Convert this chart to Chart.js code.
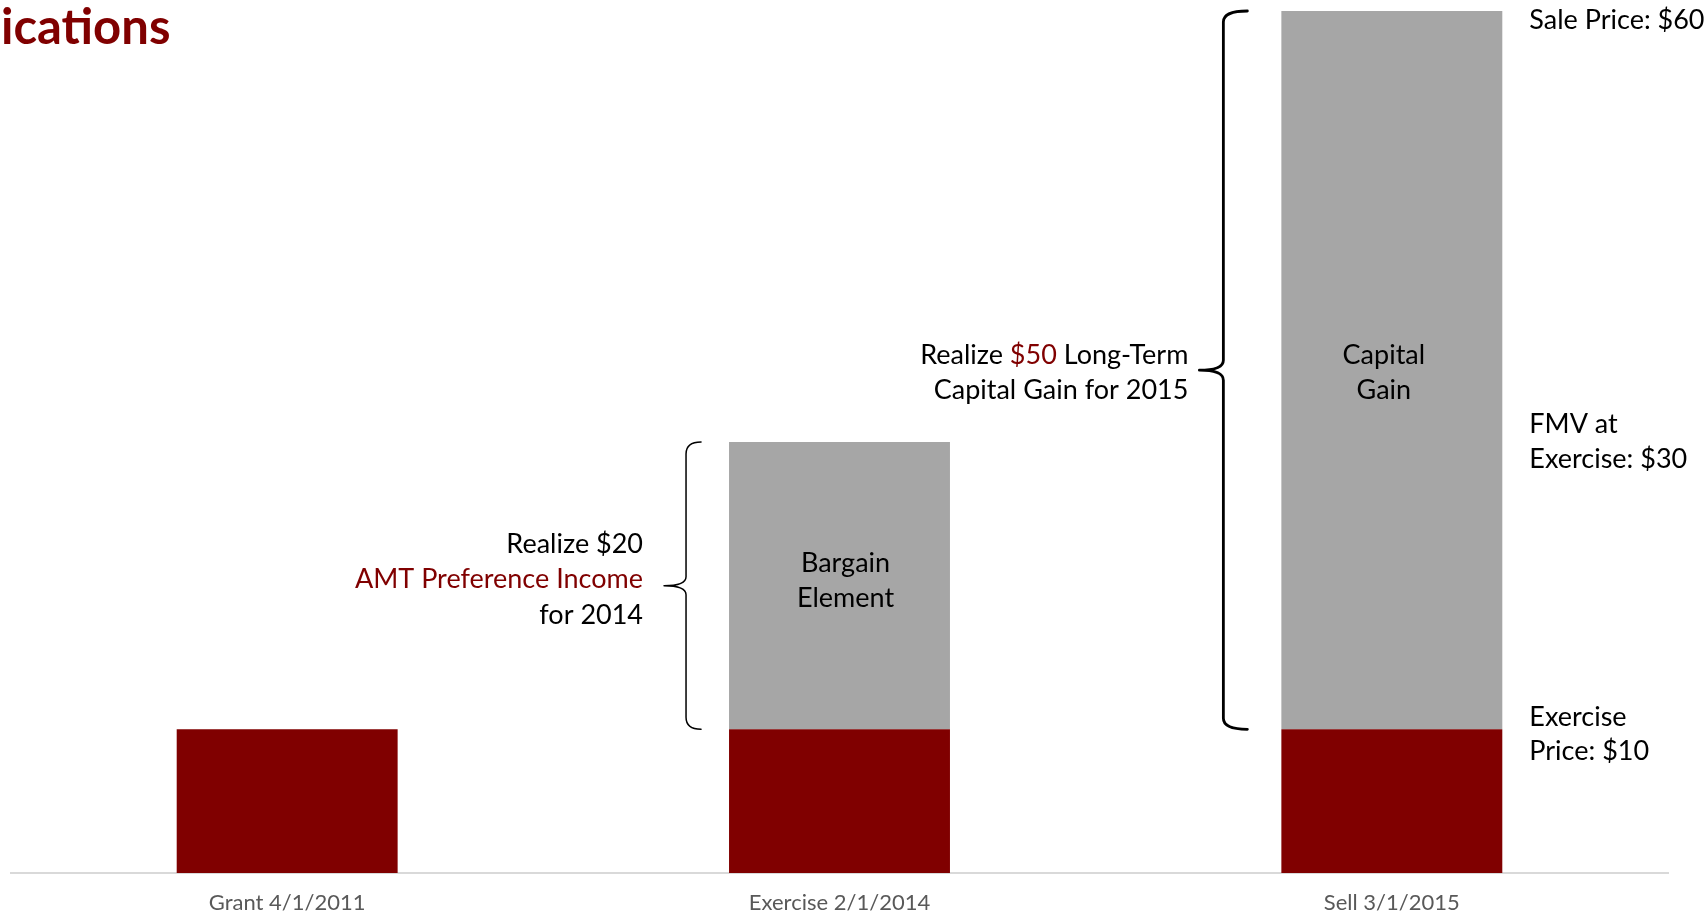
<!DOCTYPE html>
<html>
<head>
<meta charset="utf-8">
<title>AMT Implications</title>
<script src="https://cdn.jsdelivr.net/npm/chart.js@4/dist/chart.umd.min.js"></script>
<style>
  html, body { margin: 0; padding: 0; background: #ffffff; }
  #wrap { width: 1708px; height: 915px; position: relative; overflow: hidden; }
  canvas { display: block; }
</style>
</head>
<body>
<div id="wrap"><canvas id="c" width="1708" height="915"></canvas></div>
<script>
// Timeline of an incentive stock option: grant, exercise, sale
const categories = ['Grant 4/1/2011', 'Exercise 2/1/2014', 'Sell 3/1/2015'];
const exercisePrice = [10, 10, 10];   // option strike price per share
const gainOverStrike = [0, 20, 50];   // bargain element at exercise, capital gain at sale
const fmvAtExercise = 30;
const salePrice = 60;

const RED = '#800000';
const GREY = '#A6A6A6';
const FONT = 'Lato, "Open Sans", sans-serif';
const TEXT_SIZE = 27;
const LINE = 35;

function drawBrace(ctx, xEnd, xSpine, xTip, yTop, yBot, r, rm, width) {
  const yMid = (yTop + yBot) / 2;
  ctx.save();
  ctx.strokeStyle = '#000000';
  ctx.lineWidth = width;
  ctx.lineJoin = 'round';
  ctx.lineCap = 'round';
  ctx.beginPath();
  ctx.moveTo(xEnd, yTop);
  ctx.quadraticCurveTo(xSpine, yTop, xSpine, yTop + r);
  ctx.lineTo(xSpine, yMid - rm);
  ctx.quadraticCurveTo(xSpine, yMid, xTip, yMid);
  ctx.quadraticCurveTo(xSpine, yMid, xSpine, yMid + rm);
  ctx.lineTo(xSpine, yBot - r);
  ctx.quadraticCurveTo(xSpine, yBot, xEnd, yBot);
  ctx.stroke();
  ctx.restore();
}

// Right-aligned line made of differently coloured pieces
function drawRuns(ctx, runs, xRight, y) {
  let total = 0;
  runs.forEach(r => { total += ctx.measureText(r[0]).width; });
  let x = xRight - total;
  ctx.textAlign = 'left';
  runs.forEach(r => {
    ctx.fillStyle = r[1];
    ctx.fillText(r[0], x, y);
    x += ctx.measureText(r[0]).width;
  });
}

const annotations = {
  id: 'annotations',
  afterDatasetsDraw(chart) {
    const ctx = chart.ctx;
    const y = chart.scales.y;
    const bars = chart.getDatasetMeta(0).data;
    const left = i => bars[i].x - bars[i].width / 2;
    const right = i => bars[i].x + bars[i].width / 2;
    const y10 = y.getPixelForValue(exercisePrice[2]);
    const y30 = y.getPixelForValue(fmvAtExercise);
    const y60 = y.getPixelForValue(salePrice);

    ctx.save();
    // Heading
    ctx.font = 'bold 49px ' + FONT;
    ctx.fillStyle = RED;
    ctx.textBaseline = 'alphabetic';
    ctx.textAlign = 'left';
    ctx.fillText('ications', 1, 44);

    ctx.font = TEXT_SIZE + 'px ' + FONT;
    ctx.fillStyle = '#000000';

    // Price levels beside the sale bar
    const xr = right(2) + 27;
    ctx.fillText('Sale Price: $' + salePrice, xr, y60 + 18);
    ctx.fillText('FMV at', xr, y30 - 9);
    ctx.fillText('Exercise: $' + fmvAtExercise, xr, y30 + 26);
    ctx.fillText('Exercise', xr, y10 - 3);
    ctx.fillText('Price: $' + exercisePrice[2], xr, y10 + 31);

    // Labels inside the grey segments
    ctx.textAlign = 'center';
    ctx.fillText('Bargain', bars[1].x + 6, 572);
    ctx.fillText('Element', bars[1].x + 6, 572 + LINE);
    ctx.fillText('Capital', bars[2].x - 8, 364);
    ctx.fillText('Gain', bars[2].x - 8, 364 + LINE);

    // Brace over the bargain element
    const y1Top = y30, y1Bot = y.getPixelForValue(exercisePrice[1]);
    drawBrace(ctx, left(1) - 28, left(1) - 43, left(1) - 65, y1Top, y1Bot, 12, 9, 1.5);
    const mid1 = (y1Top + y1Bot) / 2;
    const xt1 = left(1) - 86;
    drawRuns(ctx, [['Realize $' + gainOverStrike[1], '#000000']], xt1, mid1 - 33);
    drawRuns(ctx, [['AMT Preference Income', RED]], xt1, mid1 + 2);
    drawRuns(ctx, [['for 2014', '#000000']], xt1, mid1 + 38);

    // Brace over the capital gain
    const y2Top = y60, y2Bot = y.getPixelForValue(exercisePrice[2]);
    drawBrace(ctx, left(2) - 34, left(2) - 58, left(2) - 82, y2Top, y2Bot, 11, 10, 2.8);
    const mid2 = (y2Top + y2Bot) / 2;
    const xt2 = left(2) - 93;
    drawRuns(ctx, [['Realize ', '#000000'], ['$' + gainOverStrike[2], RED], [' Long-Term', '#000000']], xt2, mid2 - 6);
    drawRuns(ctx, [['Capital Gain for 2015', '#000000']], xt2, mid2 + 29);
    ctx.restore();
  }
};

new Chart(document.getElementById('c'), {
  type: 'bar',
  data: {
    labels: categories,
    datasets: [
      { label: 'Exercise Price', data: exercisePrice, backgroundColor: RED, borderWidth: 0 },
      { label: 'Gain', data: gainOverStrike, backgroundColor: GREY, borderWidth: 0 }
    ]
  },
  options: {
    responsive: false,
    animation: false,
    events: [],
    layout: { padding: { left: 11, right: 40, top: 11, bottom: 0 } },
    datasets: { bar: { categoryPercentage: 1, barPercentage: 0.4 } },
    plugins: { legend: { display: false }, tooltip: { enabled: false }, title: { display: false } },
    scales: {
      x: {
        stacked: true,
        grid: { display: false, drawTicks: false },
        border: { display: true, color: '#D9D9D9', width: 2 },
        ticks: { color: '#595959', font: { family: FONT, size: 22 }, padding: 17 },
        afterFit(scale) { scale.height = 42; }
      },
      y: {
        stacked: true,
        display: false,
        min: 0,
        max: salePrice
      }
    }
  },
  plugins: [annotations]
});
</script>
</body>
</html>
